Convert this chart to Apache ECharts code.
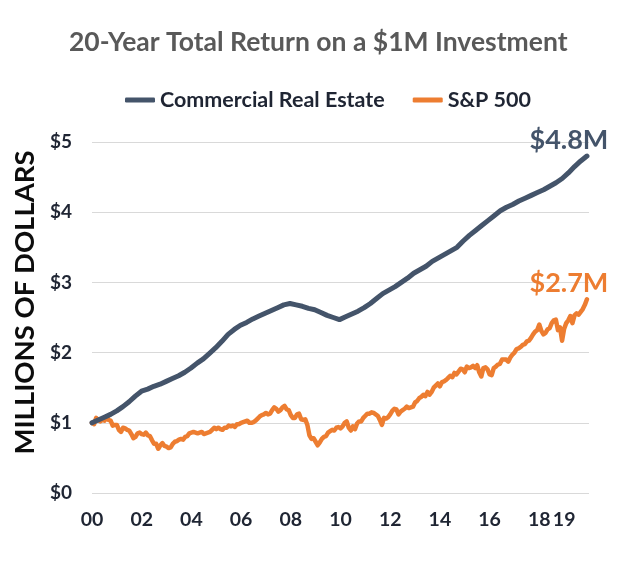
<!DOCTYPE html>
<html>
<head>
<meta charset="utf-8">
<script src="https://cdn.jsdelivr.net/npm/echarts@6/dist/echarts.min.js"></script>
<style>
html,body{margin:0;padding:0;background:#fff;}
#chart{width:617px;height:561px;}
</style>
</head>
<body>
<div id="chart"></div>
<script>
// ---- Data ----
const titleText = '20-Year Total Return on a $1M Investment';
const seriesNames = ['Commercial Real Estate', 'S&P 500'];
const startYear = 2000;
const endYear = 2019 + 11 / 12;

// Commercial Real Estate, quarterly ($M), Q1 2000 .. end 2019
const creValues = [
  1.00, 1.04, 1.08, 1.12, 1.17, 1.23, 1.30, 1.38, 1.45, 1.48,
  1.52, 1.55, 1.59, 1.63, 1.67, 1.72, 1.78, 1.85, 1.91, 1.99,
  2.07, 2.16, 2.26, 2.33, 2.39, 2.43, 2.48, 2.52, 2.56, 2.60,
  2.64, 2.68, 2.70, 2.68, 2.66, 2.63, 2.61, 2.57, 2.53, 2.50,
  2.47, 2.51, 2.55, 2.59, 2.64, 2.70, 2.77, 2.84, 2.89, 2.94,
  3.00, 3.06, 3.13, 3.18, 3.23, 3.30, 3.35, 3.40, 3.45, 3.50,
  3.59, 3.67, 3.74, 3.81, 3.88, 3.95, 4.02, 4.07, 4.11, 4.16,
  4.20, 4.24, 4.28, 4.32, 4.37, 4.42, 4.48, 4.56, 4.65, 4.73,
  4.80
];

// S&P 500 total return, monthly ($M), Jan 2000 .. Dec 2019
const spValues = [
  1.00, 0.98, 1.07, 1.04, 1.02, 1.04, 1.03, 1.09, 1.04, 1.03, 0.96, 0.97,
  0.97, 0.90, 0.87, 0.93, 0.92, 0.90, 0.89, 0.84, 0.78, 0.80, 0.85, 0.86,
  0.84, 0.83, 0.86, 0.82, 0.81, 0.75, 0.70, 0.70, 0.63, 0.68, 0.71, 0.67,
  0.66, 0.64, 0.65, 0.70, 0.73, 0.74, 0.76, 0.77, 0.76, 0.80, 0.81, 0.85,
  0.86, 0.87, 0.86, 0.85, 0.86, 0.87, 0.84, 0.85, 0.86, 0.87, 0.90, 0.93,
  0.91, 0.93, 0.91, 0.90, 0.93, 0.93, 0.96, 0.95, 0.96, 0.94, 0.98, 0.98,
  1.00, 1.01, 1.02, 1.03, 1.00, 1.00, 1.01, 1.03, 1.06, 1.09, 1.11, 1.12,
  1.14, 1.12, 1.13, 1.18, 1.22, 1.20, 1.16, 1.18, 1.22, 1.24, 1.19, 1.18,
  1.11, 1.07, 1.07, 1.12, 1.13, 1.05, 1.04, 1.05, 0.97, 0.82, 0.77, 0.78,
  0.73, 0.68, 0.72, 0.77, 0.80, 0.81, 0.86, 0.88, 0.90, 0.89, 0.93, 0.94,
  0.92, 0.95, 1.00, 1.02, 0.93, 0.89, 0.95, 0.91, 0.99, 1.02, 1.02, 1.07,
  1.10, 1.13, 1.13, 1.15, 1.14, 1.12, 1.10, 1.04, 0.97, 1.07, 1.06, 1.08,
  1.12, 1.17, 1.20, 1.19, 1.12, 1.16, 1.18, 1.20, 1.23, 1.21, 1.22, 1.23,
  1.29, 1.31, 1.35, 1.37, 1.40, 1.38, 1.44, 1.40, 1.44, 1.50, 1.53, 1.56,
  1.52, 1.58, 1.59, 1.61, 1.64, 1.67, 1.65, 1.71, 1.69, 1.73, 1.77, 1.76,
  1.72, 1.80, 1.78, 1.79, 1.81, 1.78, 1.82, 1.72, 1.66, 1.78, 1.79, 1.76,
  1.69, 1.68, 1.78, 1.80, 1.83, 1.84, 1.90, 1.90, 1.90, 1.87, 1.93, 1.97,
  2.00, 2.05, 2.06, 2.08, 2.11, 2.12, 2.16, 2.17, 2.21, 2.26, 2.30, 2.32,
  2.40, 2.31, 2.26, 2.28, 2.33, 2.35, 2.42, 2.46, 2.47, 2.32, 2.36, 2.17,
  2.34, 2.42, 2.46, 2.52, 2.42, 2.53, 2.56, 2.54, 2.58, 2.62, 2.68, 2.76
];

const endLabels = ['$4.8M', '$2.7M'];
const xTickYears = [2000, 2002, 2004, 2006, 2008, 2010, 2012, 2014, 2016, 2018, 2019];
const xTickLabels = ['00', '02', '04', '06', '08', '10', '12', '14', '16', '18', '19'];
const yTickLabels = ['$0', '$1', '$2', '$3', '$4', '$5'];
const yAxisTitle = 'MILLIONS OF DOLLARS';

// ---- Build ----
function spread(vals) {
  const n = vals.length;
  return vals.map((v, i) => [startYear + (endYear - startYear) * i / (n - 1), v]);
}
const creData = spread(creValues);
const spData = spread(spValues);

const colors = ['#44546A', '#ED7D31'];
const FONT = 'Lato';

function endMark(data, text, color) {
  const last = data[data.length - 1];
  return {
    symbol: 'circle', symbolSize: 0, silent: true,
    data: [{ coord: last, value: text }],
    label: {
      show: true, position: 'top', distance: 2, offset: [-18, 0],
      formatter: text, color: color, fontFamily: FONT, fontWeight: 'bold', fontSize: 27
    }
  };
}

const chart = echarts.init(document.getElementById('chart'), null, { renderer: 'canvas' });
chart.setOption({
  animation: false,
  backgroundColor: '#ffffff',
  color: colors,
  title: {
    text: titleText, left: 64, top: 24,
    textStyle: { fontFamily: FONT, fontSize: 26.5, fontWeight: 'bold', color: '#595959' }
  },
  legend: {
    top: 84, left: 120,
    icon: 'roundRect', itemWidth: 30, itemHeight: 5, itemGap: 28,
    textStyle: { fontFamily: FONT, fontSize: 21.5, fontWeight: 'bold', color: '#1f2533' },
    data: seriesNames
  },
  grid: { left: 92, right: 28, top: 142, bottom: 68, containLabel: false },
  xAxis: {
    type: 'value', min: 2000, max: 2020, interval: 1,
    axisLine: { show: false }, axisTick: { show: false }, splitLine: { show: false },
    axisLabel: {
      margin: 17, fontFamily: FONT, fontSize: 19.5, fontWeight: 'bold', color: '#1f2533',
      formatter: v => { const k = xTickYears.indexOf(v); return k >= 0 ? xTickLabels[k] : ''; }
    }
  },
  yAxis: {
    type: 'value', min: 0, max: 5, interval: 1,
    name: yAxisTitle, nameLocation: 'middle', nameRotate: 90, nameGap: 52,
    nameTextStyle: { fontFamily: FONT, fontSize: 27.5, fontWeight: 'bold', color: '#0d0d0d', padding: [0, 0, 0, 30] },
    axisLine: { show: false }, axisTick: { show: false },
    splitLine: { lineStyle: { color: '#d9d9d9', width: 1 } },
    axisLabel: {
      margin: 20, fontFamily: FONT, fontSize: 19, fontWeight: 'bold', color: '#1f2533',
      formatter: v => yTickLabels[Math.round(v)]
    }
  },
  series: [
    {
      name: seriesNames[0], type: 'line', data: creData, showSymbol: false, smooth: false,
      lineStyle: { width: 5, color: colors[0], cap: 'round', join: 'round' },
      z: 3, markPoint: endMark(creData, endLabels[0], colors[0])
    },
    {
      name: seriesNames[1], type: 'line', data: spData, showSymbol: false, smooth: false,
      lineStyle: { width: 4.5, color: colors[1], cap: 'round', join: 'round' },
      z: 2, markPoint: endMark(spData, endLabels[1], colors[1])
    }
  ]
});
</script>
</body>
</html>
